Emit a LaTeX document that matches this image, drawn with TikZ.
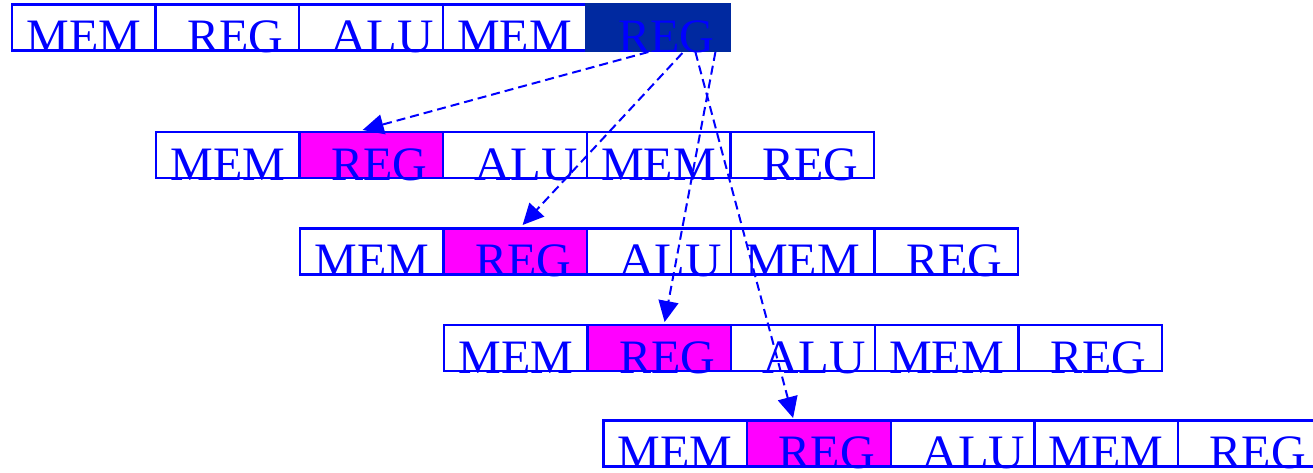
\documentclass[tikz,border=0pt]{standalone}
\usepackage{fontspec}
\setmainfont{Liberation Serif}
\usetikzlibrary{arrows.meta,calc}
\definecolor{navyhl}{RGB}{0,41,160}
\definecolor{maghl}{RGB}{255,0,255}
\newcommand\lowtext[2]{\raisebox{-25pt}[0pt][0pt]{\kern#1pt#2\kern-#1pt}}
\begin{document}
\begin{tikzpicture}[x=1pt,y=-1pt,
  cell/.style={draw=blue, line width=2.4pt, minimum width=143.6pt, minimum height=46pt,
    inner sep=0pt, outer sep=0pt, text=blue, font=\fontsize{48}{50}\selectfont},
  h0-4/.style={fill=navyhl, draw=navyhl},
  h1-1/.style={fill=maghl},
  h2-1/.style={fill=maghl},
  h3-1/.style={fill=maghl},
  h4-1/.style={fill=maghl},
  arr/.style={draw=blue, line width=2pt, dash pattern=on 9pt off 5pt,
    -{Triangle[length=21pt,width=20pt]}}]
\useasboundingbox (0,0) rectangle (1313,472);
\foreach \r/\lx/\cy in {0/12/27.5,1/156/155,2/300/251.5,3/444/348,4/603.5/443.5} {
  \foreach \c/\t/\dx in {0/MEM/0,1/REG/8,2/{\scalebox{1.05}[1]{ALU}}/11,3/MEM/0,4/REG/8} {
    \node[cell, h\r-\c/.try] (r\r-\c) at (\lx+71.8+\c*143.6, \cy) {\lowtext{\dx}{\t}};
  }
}
\draw[arr] ([xshift=62pt,yshift=-1.5pt]r0-4.south west) -- ([xshift=63pt,yshift=2pt]r1-1.north west);
\draw[arr] ([xshift=96pt,yshift=-2.5pt]r0-4.south west) -- ([xshift=79pt,yshift=3.5pt]r2-1.north west);
\draw[arr] ([xshift=129pt,yshift=-1.5pt]r0-4.south west) -- ([xshift=77pt,yshift=3pt]r3-1.north west);
\draw[arr] ([xshift=109pt,yshift=-1.5pt]r0-4.south west) -- ([xshift=46pt,yshift=2.5pt]r4-1.north west);
\end{tikzpicture}
\end{document}
